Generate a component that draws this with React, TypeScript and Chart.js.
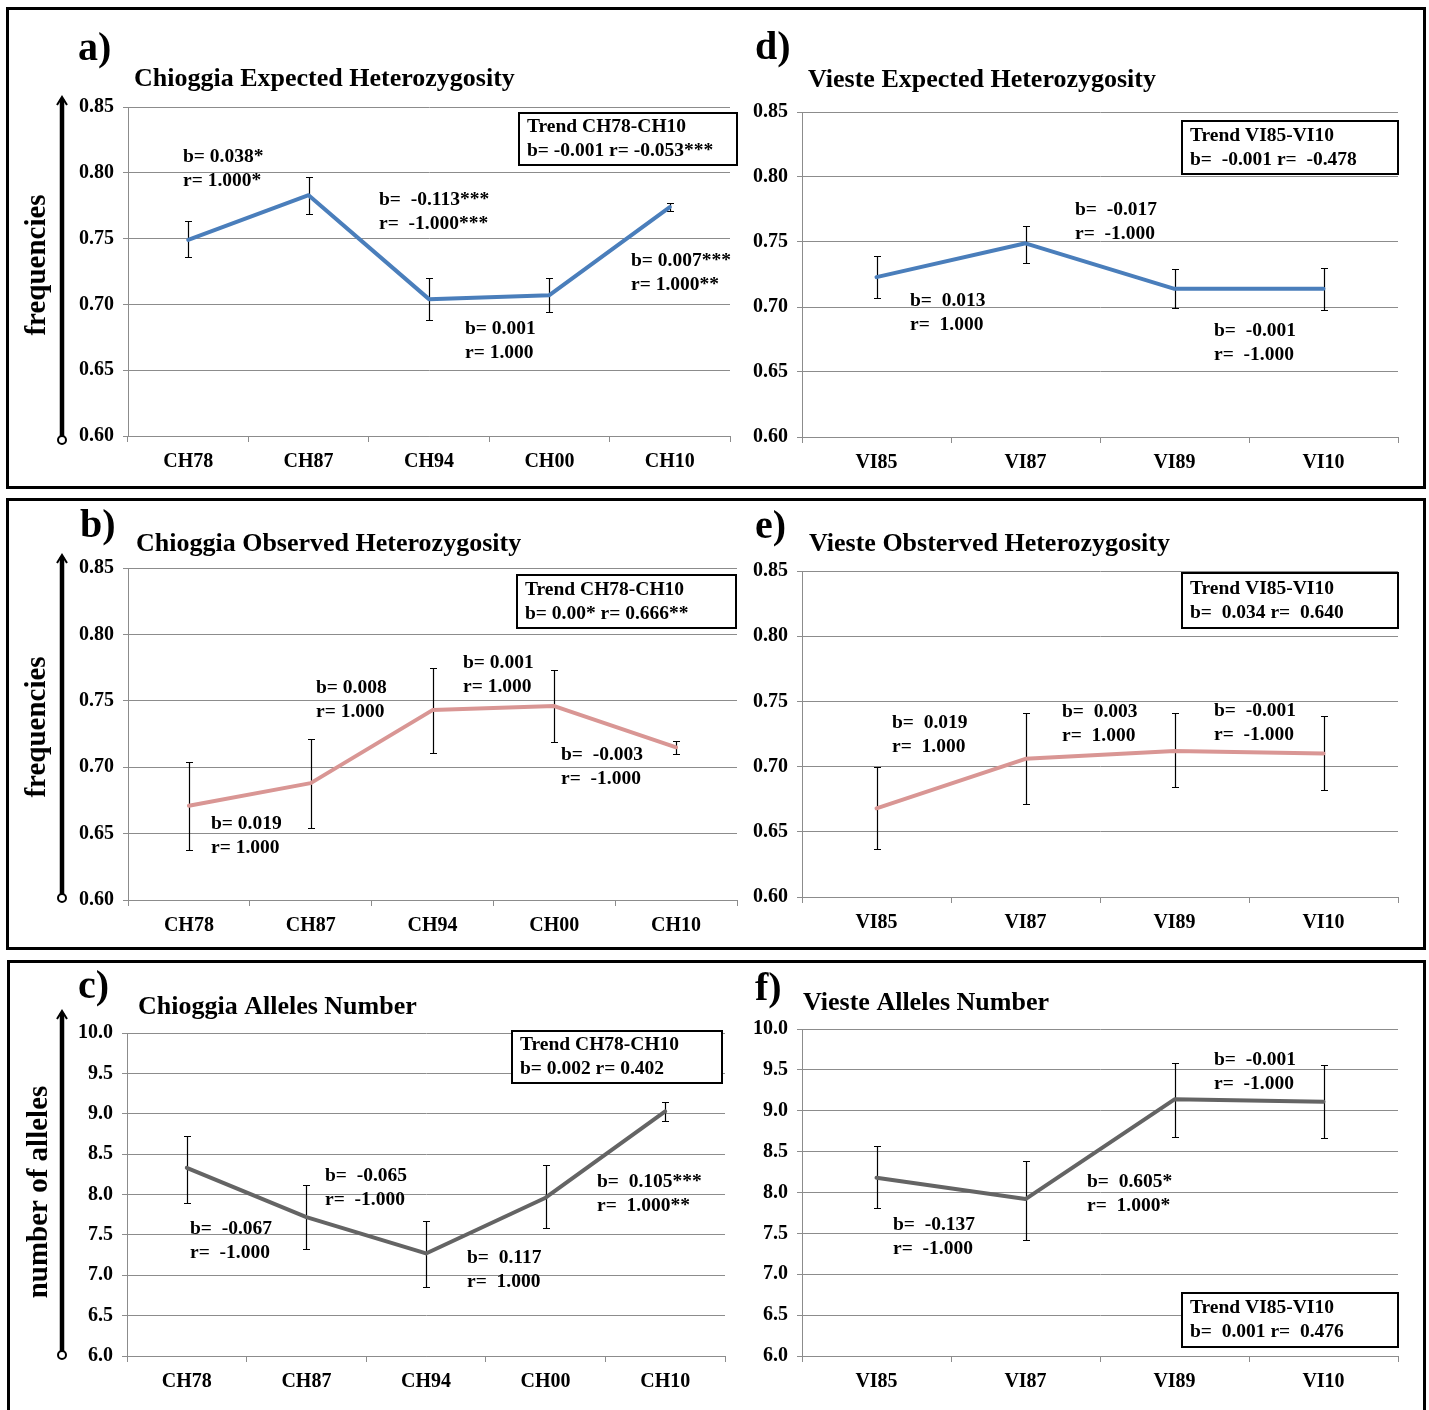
import React, { useEffect, useRef } from "react";
import { Chart, registerables } from "chart.js";

Chart.register(...registerables);

// ---------- DATA ----------
const chCategories = ["CH78", "CH87", "CH94", "CH00", "CH10"];
const viCategories = ["VI85", "VI87", "VI89", "VI10"];

const freqTickValues = [0.6, 0.65, 0.7, 0.75, 0.8, 0.85];
const alleleTickValues = [6.0, 6.5, 7.0, 7.5, 8.0, 8.5, 9.0, 9.5, 10.0];

// a) Chioggia expected heterozygosity
const chHeMean = [0.749, 0.783, 0.704, 0.707, 0.774];
const chHeLow = [0.736, 0.769, 0.688, 0.694, 0.771];
const chHeHigh = [0.763, 0.797, 0.72, 0.72, 0.777];

// d) Vieste expected heterozygosity
const viHeMean = [0.723, 0.749, 0.714, 0.714];
const viHeLow = [0.707, 0.734, 0.699, 0.698];
const viHeHigh = [0.739, 0.762, 0.729, 0.73];

// b) Chioggia observed heterozygosity
const chHoMean = [0.671, 0.688, 0.743, 0.746, 0.715];
const chHoLow = [0.638, 0.654, 0.711, 0.719, 0.71];
const chHoHigh = [0.704, 0.721, 0.775, 0.773, 0.72];

// e) Vieste observed heterozygosity
const viHoMean = [0.668, 0.706, 0.712, 0.71];
const viHoLow = [0.637, 0.671, 0.684, 0.682];
const viHoHigh = [0.7, 0.741, 0.741, 0.739];

// c) Chioggia alleles number
const chAlMean = [8.33, 7.72, 7.27, 7.96, 9.03];
const chAlLow = [7.9, 7.32, 6.86, 7.58, 8.91];
const chAlHigh = [8.73, 8.12, 7.67, 8.36, 9.15];

// f) Vieste alleles number
const viAlMean = [8.18, 7.92, 9.14, 9.11];
const viAlLow = [7.81, 7.42, 8.68, 8.67];
const viAlHigh = [8.57, 8.39, 9.59, 9.56];

// annotation texts
const trendA = ["Trend CH78-CH10", "b= -0.001 r= -0.053***"];
const trendB = ["Trend CH78-CH10", "b= 0.00* r= 0.666**"];
const trendC = ["Trend CH78-CH10", "b= 0.002 r= 0.402"];
const trendD = ["Trend VI85-VI10", "b=  -0.001 r=  -0.478"];
const trendE = ["Trend VI85-VI10", "b=  0.034 r=  0.640"];
const trendF = ["Trend VI85-VI10", "b=  0.001 r=  0.476"];

const notesA = [["b= 0.038*", "r= 1.000*"], ["b=  -0.113***", "r=  -1.000***"], ["b= 0.001", "r= 1.000"], ["b= 0.007***", "r= 1.000**"]];
const notesD = [["b=  -0.017", "r=  -1.000"], ["b=  0.013", "r=  1.000"], ["b=  -0.001", "r=  -1.000"]];
const notesB = [["b= 0.008", "r= 1.000"], ["b= 0.001", "r= 1.000"], ["b= 0.019", "r= 1.000"], ["b=  -0.003", "r=  -1.000"]];
const notesE = [["b=  0.019", "r=  1.000"], ["b=  0.003", "r=  1.000"], ["b=  -0.001", "r=  -1.000"]];
const notesC = [["b=  -0.065", "r=  -1.000"], ["b=  -0.067", "r=  -1.000"], ["b=  0.117", "r=  1.000"], ["b=  0.105***", "r=  1.000**"]];
const notesF = [["b=  -0.001", "r=  -1.000"], ["b=  0.605*", "r=  1.000*"], ["b=  -0.137", "r=  -1.000"]];

// ---------- STYLE / LAYOUT ----------
const SERIF = '"Liberation Serif", "Times New Roman", Times, serif';
const GRID = "#8c8c8c";
const BLUE = "#4A7EBB";
const PINK = "#D99694";
const GRAY = "#646464";

type Panel = {
  key: string;
  letter: string;
  title: string;
  labels: string[];
  mean: number[];
  low: number[];
  high: number[];
  color: string;
  ticks: number[];
  decimals: number;
  axisLabel?: string;
  trend: string[];
  notes: string[][];
  plot: { l: number; t: number; r: number; b: number };
  canvas: { l: number; t: number; r: number; b: number };
  letterPos: [number, number];
  titlePos: [number, number];
  trendBox: [number, number, number, number];
  notePos: [number, number][];
  arrow?: { dx: number; top: number; bottom: number; labelDx: number; labelDy: number };
};

const panels: Panel[] = [
  {
    key: "a", letter: "a)", title: "Chioggia Expected Heterozygosity",
    labels: chCategories, mean: chHeMean, low: chHeLow, high: chHeHigh, color: BLUE,
    ticks: freqTickValues, decimals: 2, axisLabel: "frequencies", trend: trendA, notes: notesA,
    plot: { l: 128, t: 107, r: 730, b: 436 }, canvas: { l: 14, t: 11, r: 742, b: 481 },
    letterPos: [-50, -47], titlePos: [6, -28], trendBox: [391, 6, 218, 52],
    notePos: [[55, 50], [251, 93], [337, 222], [503, 154]],
    arrow: { dx: -66, top: -10, bottom: 4, labelDx: -90, labelDy: 158 },
  },
  {
    key: "d", letter: "d)", title: "Vieste Expected Heterozygosity",
    labels: viCategories, mean: viHeMean, low: viHeLow, high: viHeHigh, color: BLUE,
    ticks: freqTickValues, decimals: 2, trend: trendD, notes: notesD,
    plot: { l: 802, t: 112, r: 1398, b: 437 }, canvas: { l: 745, t: 11, r: 1420, b: 482 },
    letterPos: [-47, -53], titlePos: [6, -32], trendBox: [380, 9, 216, 53],
    notePos: [[273, 98], [108, 189], [412, 219]],
  },
  {
    key: "b", letter: "b)", title: "Chioggia Observed Heterozygosity",
    labels: chCategories, mean: chHoMean, low: chHoLow, high: chHoHigh, color: PINK,
    ticks: freqTickValues, decimals: 2, axisLabel: "frequencies", trend: trendB, notes: notesB,
    plot: { l: 128, t: 568, r: 737, b: 900 }, canvas: { l: 14, t: 502, r: 749, b: 945 },
    letterPos: [-48, -31], titlePos: [8, -24], trendBox: [389, 7, 219, 53],
    notePos: [[188, 120], [335, 95], [83, 256], [433, 187]],
    arrow: { dx: -66, top: -13, bottom: -2, labelDx: -90, labelDy: 159 },
  },
  {
    key: "e", letter: "e)", title: "Vieste Obsterved Heterozygosity",
    labels: viCategories, mean: viHoMean, low: viHoLow, high: viHoHigh, color: PINK,
    ticks: freqTickValues, decimals: 2, trend: trendE, notes: notesE,
    plot: { l: 802, t: 571, r: 1398, b: 897 }, canvas: { l: 745, t: 502, r: 1420, b: 942 },
    letterPos: [-47, -33], titlePos: [7, -27], trendBox: [380, 2, 216, 55],
    notePos: [[90, 152], [260, 141], [412, 140]],
  },
  {
    key: "c", letter: "c)", title: "Chioggia Alleles Number",
    labels: chCategories, mean: chAlMean, low: chAlLow, high: chAlHigh, color: GRAY,
    ticks: alleleTickValues, decimals: 1, axisLabel: "number of alleles", trend: trendC, notes: notesC,
    plot: { l: 127, t: 1033, r: 725, b: 1356 }, canvas: { l: 14, t: 964, r: 740, b: 1401 },
    letterPos: [-49, -35], titlePos: [11, -26], trendBox: [385, -2, 210, 52],
    notePos: [[198, 143], [63, 196], [340, 225], [470, 149]],
    arrow: { dx: -65, top: -22, bottom: -1, labelDx: -87, labelDy: 159 },
  },
  {
    key: "f", letter: "f)", title: "Vieste Alleles Number",
    labels: viCategories, mean: viAlMean, low: viAlLow, high: viAlHigh, color: GRAY,
    ticks: alleleTickValues, decimals: 1, trend: trendF, notes: notesF,
    plot: { l: 802, t: 1029, r: 1398, b: 1356 }, canvas: { l: 745, t: 964, r: 1420, b: 1401 },
    letterPos: [-47, -29], titlePos: [1, -26], trendBox: [380, 264, 216, 54],
    notePos: [[412, 31], [285, 153], [91, 196]],
  },
];

function makeDecor(p: Panel) {
  return {
    id: "decor_" + p.key,
    beforeDatasetsDraw(chart: any) {
      const { ctx } = chart;
      const xs = chart.scales.x;
      const ys = chart.scales.y;
      ctx.save();
      ctx.strokeStyle = "#000";
      ctx.lineWidth = 1.2;
      p.mean.forEach((_v, i) => {
        const px = Math.round(xs.getPixelForValue(i)) + 0.5;
        const yt = Math.round(ys.getPixelForValue(p.high[i])) + 0.5;
        const yb = Math.round(ys.getPixelForValue(p.low[i])) + 0.5;
        ctx.beginPath();
        ctx.moveTo(px, yt);
        ctx.lineTo(px, yb);
        ctx.moveTo(px - 3.5, yt);
        ctx.lineTo(px + 3.5, yt);
        ctx.moveTo(px - 3.5, yb);
        ctx.lineTo(px + 3.5, yb);
        ctx.stroke();
      });
      ctx.restore();
    },
    afterDraw(chart: any) {
      const { ctx, chartArea } = chart;
      const L = chartArea.left;
      const T = chartArea.top;
      const B = chartArea.bottom;
      ctx.save();
      ctx.fillStyle = "#000";
      ctx.textAlign = "left";

      // panel letter
      ctx.font = `bold 40px ${SERIF}`;
      ctx.textBaseline = "alphabetic";
      ctx.fillText(p.letter, L + p.letterPos[0], T + p.letterPos[1]);

      // title
      ctx.font = `bold 26px ${SERIF}`;
      ctx.textBaseline = "middle";
      ctx.fillText(p.title, L + p.titlePos[0], T + p.titlePos[1]);

      // segment annotations
      ctx.font = `bold 19.5px ${SERIF}`;
      p.notes.forEach((lines, i) => {
        const [nx, ny] = p.notePos[i];
        lines.forEach((s, j) => ctx.fillText(s, L + nx, T + ny + 24 * j));
      });

      // trend box
      const [bx, by, bw, bh] = p.trendBox;
      ctx.fillStyle = "#fff";
      ctx.fillRect(L + bx, T + by, bw, bh);
      ctx.strokeStyle = "#000";
      ctx.lineWidth = 2;
      ctx.strokeRect(L + bx, T + by, bw, bh);
      ctx.fillStyle = "#000";
      p.trend.forEach((s, j) => ctx.fillText(s, L + bx + 8, T + by + bh / 2 - 12 + 24 * j));

      // vertical arrow and axis label
      if (p.arrow && p.axisLabel) {
        const ax = L + p.arrow.dx;
        const top = T + p.arrow.top;
        const bot = B + p.arrow.bottom;
        ctx.strokeStyle = "#000";
        ctx.lineWidth = 4.5;
        ctx.beginPath();
        ctx.moveTo(ax, top + 2);
        ctx.lineTo(ax, bot - 4);
        ctx.stroke();
        ctx.lineWidth = 2;
        ctx.beginPath();
        ctx.moveTo(ax - 5, top + 8);
        ctx.lineTo(ax, top);
        ctx.lineTo(ax + 5, top + 8);
        ctx.stroke();
        ctx.beginPath();
        ctx.arc(ax, bot, 4, 0, Math.PI * 2);
        ctx.fillStyle = "#fff";
        ctx.fill();
        ctx.stroke();

        ctx.save();
        ctx.translate(L + p.arrow.labelDx, T + p.arrow.labelDy);
        ctx.rotate(-Math.PI / 2);
        ctx.textAlign = "center";
        ctx.textBaseline = "middle";
        ctx.fillStyle = "#000";
        ctx.font = `bold 29px ${SERIF}`;
        ctx.fillText(p.axisLabel, 0, 0);
        ctx.restore();
      }
      ctx.restore();
    },
  };
}

function PanelChart({ p }: { p: Panel }) {
  const ref = useRef<HTMLCanvasElement | null>(null);
  const w = p.canvas.r - p.canvas.l;
  const h = p.canvas.b - p.canvas.t;

  useEffect(() => {
    if (!ref.current) return;
    const yAxisW = p.plot.l - p.canvas.l;
    const xAxisH = p.canvas.b - p.plot.b;
    const padTop = p.plot.t - p.canvas.t;
    const padRight = p.canvas.r - p.plot.r;
    const tickFont = { family: SERIF, size: 20, weight: "bold" as const };
    const chart = new Chart(ref.current, {
      type: "line",
      data: {
        labels: p.labels,
        datasets: [
          {
            data: p.mean,
            borderColor: p.color,
            backgroundColor: p.color,
            borderWidth: 4,
            pointRadius: 0,
            tension: 0,
            fill: false,
            borderCapStyle: "round",
            borderJoinStyle: "round",
          },
        ],
      },
      options: {
        animation: false,
        responsive: false,
        devicePixelRatio: 1,
        events: [],
        layout: { padding: { top: padTop, right: padRight, left: 0, bottom: 0 } },
        plugins: {
          legend: { display: false },
          tooltip: { enabled: false },
          title: { display: false },
        },
        scales: {
          x: {
            type: "category",
            offset: true,
            grid: {
              display: true,
              drawOnChartArea: false,
              drawTicks: true,
              tickLength: 6,
              offset: true,
              color: GRID,
            },
            border: { display: true, color: GRID, width: 1 },
            ticks: { font: tickFont, color: "#000", padding: 8, maxRotation: 0, autoSkip: false },
            afterFit: (s: any) => {
              s.height = xAxisH;
            },
          },
          y: {
            type: "linear",
            min: p.ticks[0],
            max: p.ticks[p.ticks.length - 1],
            afterBuildTicks: (s: any) => {
              s.ticks = p.ticks.map((v) => ({ value: v }));
            },
            grid: { color: GRID, tickLength: 5, drawTicks: true },
            border: { display: true, color: GRID, width: 1 },
            ticks: {
              font: tickFont,
              color: "#000",
              padding: 9,
              callback: (v: any) => Number(v).toFixed(p.decimals),
            },
            afterFit: (s: any) => {
              s.width = yAxisW;
            },
          },
        },
      },
      plugins: [makeDecor(p)],
    } as any);
    return () => chart.destroy();
  }, [p]);

  return (
    <canvas
      ref={ref}
      width={w}
      height={h}
      style={{ position: "absolute", left: p.canvas.l, top: p.canvas.t, width: w, height: h }}
    />
  );
}

const rowBoxes = [
  { left: 6, top: 7, width: 1420, height: 482 },
  { left: 6, top: 498, width: 1420, height: 452 },
  { left: 7, top: 960, width: 1419, height: 470 },
];

export default function App() {
  return (
    <div style={{ position: "absolute", left: 0, top: 0, width: 1429, height: 1410, overflow: "hidden", background: "#fff" }}>
      {panels.map((p) => (
        <PanelChart key={p.key} p={p} />
      ))}
      {rowBoxes.map((r, i) => (
        <div
          key={i}
          style={{
            position: "absolute",
            left: r.left,
            top: r.top,
            width: r.width,
            height: r.height,
            border: "3px solid #000",
            boxSizing: "border-box",
            pointerEvents: "none",
          }}
        />
      ))}
    </div>
  );
}
